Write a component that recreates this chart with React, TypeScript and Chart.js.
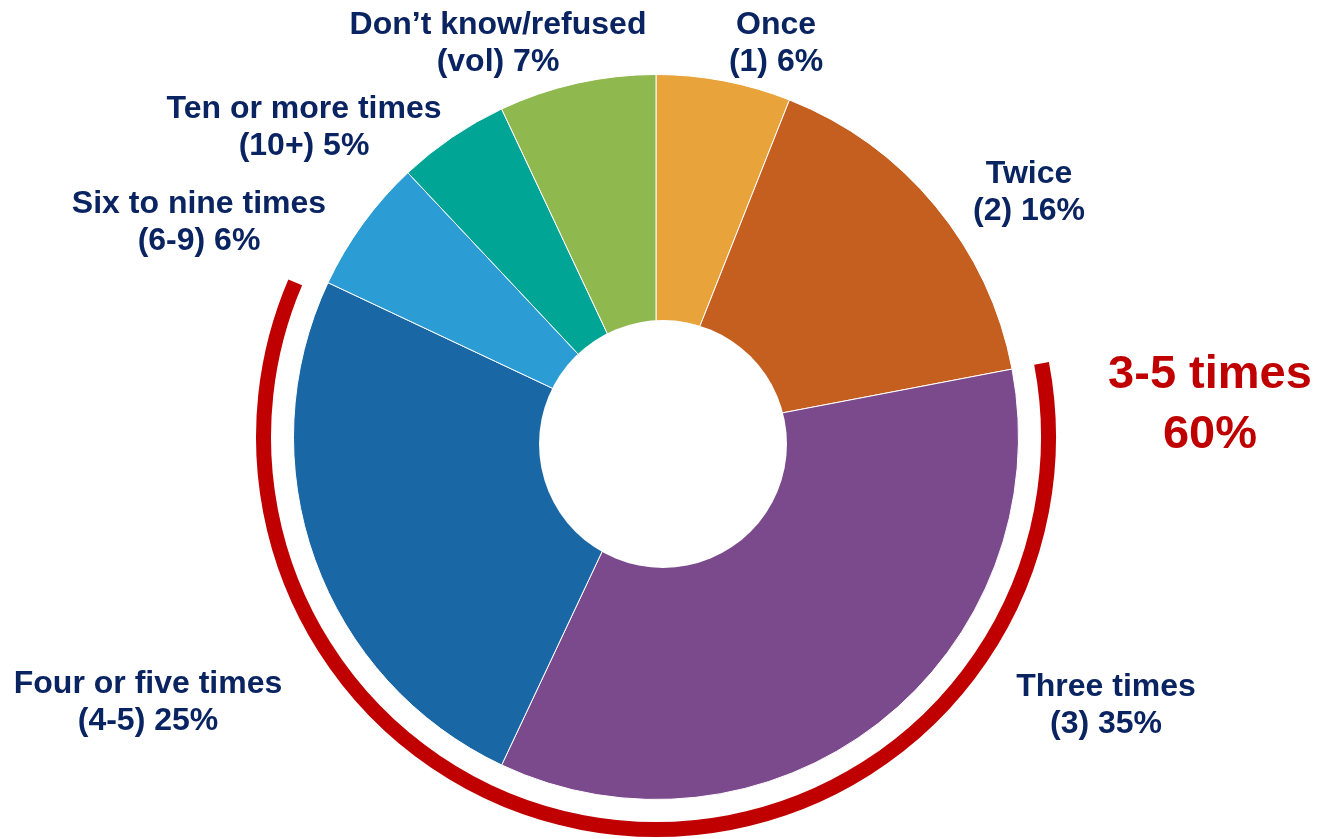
import React, { useEffect, useRef } from "react";
import { Chart, registerables } from "chart.js";

Chart.register(...registerables);

const categories = [
  "Once",
  "Twice",
  "Three times",
  "Four or five times",
  "Six to nine times",
  "Ten or more times",
  "Don\u2019t know/refused",
];
const shortCodes = ["(1)", "(2)", "(3)", "(4-5)", "(6-9)", "(10+)", "(vol)"];
const values = [6, 16, 35, 25, 6, 5, 7];
const sliceColors = ["#E8A33A", "#C55F20", "#7B4A8D", "#1A67A6", "#2C9CD4", "#00A596", "#8FB84F"];
const highlightFirst = 2;
const highlightLast = 3;
const highlightLines = ["3-5 times", "60%"];

// label centers (layout only)
const labelPos: [number, number][] = [
  [776, 25],
  [1029, 174],
  [1106, 687],
  [148, 684],
  [199, 204],
  [304, 109],
  [498, 25],
];

// hole of the ring (decoration; offset from pie centre, as in the original)
const holeOffset = 7;
const holeRadiusFrac = 0.342;

const FONT = '"Liberation Sans", Arial, sans-serif';
const NAVY = "#0A2462";
const RED = "#C00000";

const overlayPlugin = {
  id: "overlay",
  afterDatasetsDraw(chart: any) {
    const meta = chart.getDatasetMeta(0);
    const a0 = meta.data[highlightFirst];
    const a1 = meta.data[highlightLast];
    if (!a0 || !a1) return;
    const ctx = chart.ctx;
    ctx.save();
    // hole
    ctx.beginPath();
    ctx.fillStyle = "#ffffff";
    ctx.arc(a0.x + holeOffset, a0.y + holeOffset, a0.outerRadius * holeRadiusFrac, 0, Math.PI * 2);
    ctx.fill();

    // highlight arc
    const trim = (2 * Math.PI) / 180;
    ctx.beginPath();
    ctx.strokeStyle = RED;
    ctx.lineWidth = 15;
    ctx.lineCap = "butt";
    ctx.arc(a0.x, a0.y, a0.outerRadius + 30, a0.startAngle, a1.endAngle - trim);
    ctx.stroke();

    ctx.textAlign = "center";
    ctx.textBaseline = "middle";
    ctx.fillStyle = NAVY;
    ctx.font = `bold 32px ${FONT}`;
    const lineGap = 37;
    categories.forEach((c, i) => {
      const [x, y] = labelPos[i];
      ctx.fillText(c, x, y);
      ctx.fillText(`${shortCodes[i]} ${values[i]}%`, x, y + lineGap);
    });

    const total = values.slice(highlightFirst, highlightLast + 1).reduce((s, v) => s + v, 0);
    ctx.fillStyle = RED;
    ctx.font = `bold 47px ${FONT}`;
    ctx.fillText(highlightLines[0], 1210, 375);
    ctx.fillText(`${total}%`, 1210, 435);
    ctx.restore();
  },
};

export default function App() {
  const ref = useRef<HTMLCanvasElement>(null);
  useEffect(() => {
    if (!ref.current) return;
    const chart = new Chart(ref.current, {
      type: "pie",
      data: {
        labels: categories,
        datasets: [
          {
            data: values,
            backgroundColor: sliceColors,
            borderColor: "#ffffff",
            borderWidth: 1,
          },
        ],
      },
      options: {
        responsive: false,
        animation: false,
        layout: { padding: { top: 74, bottom: 39, left: 293, right: 301 } },
        plugins: { legend: { display: false }, tooltip: { enabled: false } },
      },
      plugins: [overlayPlugin],
    });
    return () => chart.destroy();
  }, []);
  return (
    <div style={{ position: "absolute", left: 0, top: 0, width: 1320, height: 839, background: "#fff" }}>
      <canvas ref={ref} width={1320} height={839} style={{ display: "block" }} />
    </div>
  );
}
